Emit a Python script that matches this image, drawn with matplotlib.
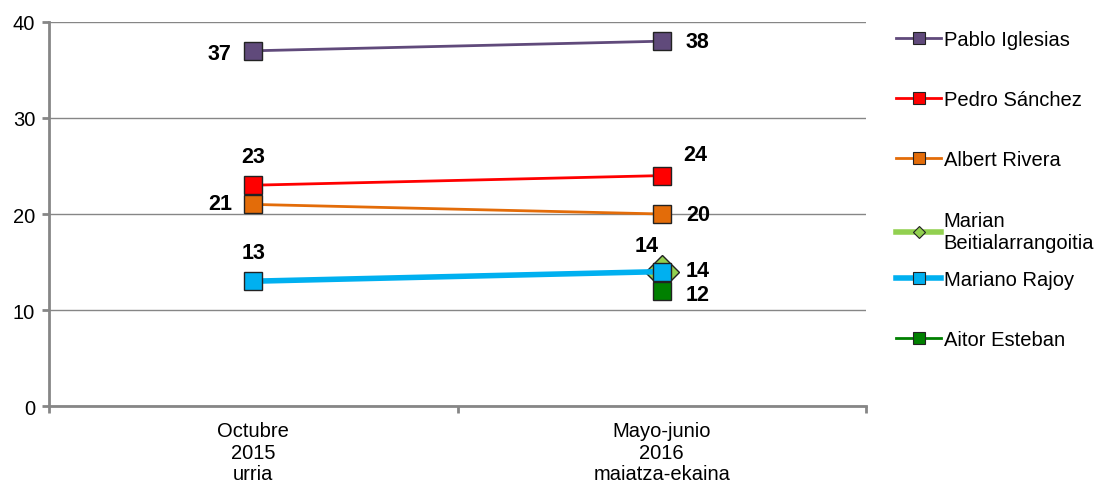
import numpy as np
import matplotlib.pyplot as plt
from matplotlib.lines import Line2D

plt.rcParams['font.family'] = ['Liberation Sans', 'DejaVu Sans']

# data
periods = ['Octubre\n2015\nurria', 'Mayo-junio\n2016\nmaiatza-ekaina']
names = ['Pablo Iglesias', 'Pedro Sánchez', 'Albert Rivera',
         'Marian\nBeitialarrangoitia', 'Mariano Rajoy', 'Aitor Esteban']
pablo = [37, 38]
pedro = [23, 24]
albert = [21, 20]
marian = [np.nan, 14]
rajoy = [13, 14]
aitor = [np.nan, 12]

series = [pablo, pedro, albert, marian, rajoy, aitor]
colors = ['#604A7B', '#FF0000', '#E36C09', '#92D050', '#00B0F0', '#008000']
markers = ['s', 's', 's', 'D', 's', 's']
msizes = [12.5, 12.5, 12.5, 17, 12.5, 12.5]
lwidths = [2, 2, 2, 4, 4, 2]
# label offsets (points) per point
offsets = [[(-24, -2), (26, 0)],
           [(0, 21), (24, 15)],
           [(-24, 1), (26, 0)],
           [None, (-11, 19)],
           [(0, 21), (26, 1)],
           [None, (26, -3)]]

fig = plt.figure(figsize=(10.94, 4.85), dpi=100)
ax = fig.add_axes([0.0448, 0.1608, 0.7468, 0.7918])

x = np.arange(len(periods))
for i in range(len(series)):
    ax.plot(x, series[i], color=colors[i], lw=lwidths[i], marker=markers[i],
            ms=msizes[i], mfc=colors[i], mec='#222222', mew=1, zorder=3 + i * 0.1,
            solid_capstyle='butt')
    for j, v in enumerate(series[i]):
        if offsets[i][j] is None or np.isnan(v):
            continue
        ax.annotate(f'{int(v)}', (x[j], v), xytext=offsets[i][j],
                    textcoords='offset points', ha='center', va='center',
                    fontsize=15.5, fontweight='bold', zorder=10)

ax.set_xlim(-0.5, 1.5)
ax.set_ylim(0, 40)
ax.set_yticks([0, 10, 20, 30, 40])
ax.set_xticks(x)
ax.set_xticklabels(periods, fontsize=14.5, linespacing=1.15)
ax.set_xticks([-0.5, 0.5, 1.5], minor=True)
ax.tick_params(axis='x', which='major', length=0, pad=11)
ax.tick_params(axis='x', which='minor', length=5, color='#868686', width=2)
ax.tick_params(axis='y', length=5, color='#868686', width=2, labelsize=14.5, pad=5)
ax.yaxis.grid(True, color='#868686', lw=1)
ax.set_axisbelow(True)
for s in ['top', 'right']:
    ax.spines[s].set_visible(False)
for s in ['left', 'bottom']:
    ax.spines[s].set_color('#868686')
    ax.spines[s].set_linewidth(2)

handles = [Line2D([], [], color=colors[i], lw=2 if i not in (3, 4) else 4,
                  marker=markers[i], ms=9 if i != 3 else 6.5, mfc=colors[i],
                  mec='#222222', mew=0.8) for i in range(len(names))]
leg_kw = dict(loc='upper left', frameon=False, fontsize=14.5, labelspacing=2.05,
              handlelength=2.2, handletextpad=0.15, borderaxespad=0)
# Excel-style legend: the two-line entry does not push the rest down
fig.legend(handles[:4], names[:4], bbox_to_anchor=(0.812, 0.953), **leg_kw)
fig.legend(handles[4:], names[4:], bbox_to_anchor=(0.812, 0.458), **leg_kw)

fig.savefig('out.png', dpi=100)
